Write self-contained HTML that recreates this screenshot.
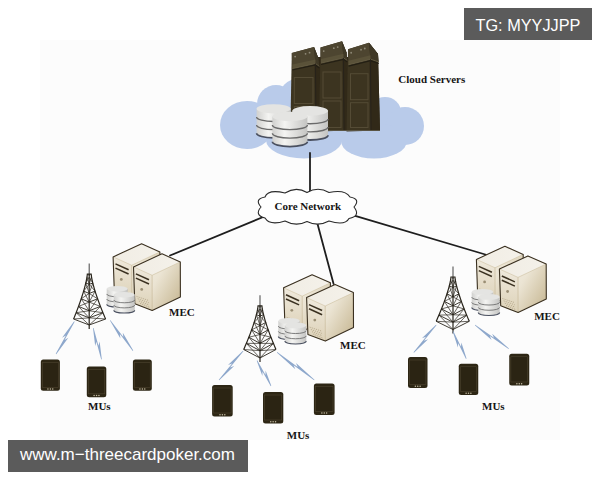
<!DOCTYPE html>
<html><head><meta charset="utf-8"><style>
html,body{margin:0;padding:0;background:#fff;width:600px;height:480px;overflow:hidden}
svg{display:block;position:absolute;left:0;top:0}
.lbl{font-family:"Liberation Serif",serif;font-weight:bold;font-size:11px;fill:#151515}
.wm{position:absolute;background:#5b5b5b;color:#fff;font-family:"Liberation Sans",sans-serif;white-space:nowrap}
</style></head><body>
<svg width="600" height="480" viewBox="0 0 600 480">
<defs>
<linearGradient id="gdb" x1="0" y1="0" x2="1" y2="0">
<stop offset="0" stop-color="#d0d0ce"/><stop offset="0.35" stop-color="#f4f4f2"/><stop offset="1" stop-color="#c4c4c2"/>
</linearGradient>
<linearGradient id="gside" x1="0" y1="0" x2="1" y2="0.7">
<stop offset="0" stop-color="#f7f4ec"/><stop offset="0.55" stop-color="#ebe4d3"/><stop offset="1" stop-color="#cdbf9e"/>
</linearGradient>
<linearGradient id="gfront" x1="0" y1="0" x2="0" y2="1">
<stop offset="0" stop-color="#efe9dc"/><stop offset="1" stop-color="#ddd2b8"/>
</linearGradient>
<linearGradient id="gtop" x1="0" y1="0" x2="1" y2="0">
<stop offset="0" stop-color="#f1ede4"/><stop offset="1" stop-color="#f4f1ea"/>
</linearGradient>
<linearGradient id="grack" x1="0" y1="0" x2="1" y2="0">
<stop offset="0" stop-color="#332e20"/><stop offset="0.5" stop-color="#3e3828"/><stop offset="1" stop-color="#2e2a1c"/>
</linearGradient>
</defs>
<rect x="40" y="40" width="520" height="400" fill="#fcfcfc"/>

<g fill="#b9cbea">
<ellipse cx="247" cy="125" rx="27" ry="24"/>
<ellipse cx="276" cy="104" rx="19" ry="19"/>
<ellipse cx="300" cy="100" rx="22" ry="22"/>
<ellipse cx="385" cy="112" rx="16" ry="15"/>
<ellipse cx="405" cy="126" rx="19" ry="19"/>
<ellipse cx="304" cy="140" rx="38" ry="18.5"/>
<ellipse cx="374" cy="141" rx="33" ry="17.5"/>
<ellipse cx="320" cy="120" rx="60" ry="22"/>
</g>
<rect x="300" y="57" width="72" height="73" fill="#312918"/>
<polygon points="291.8,53 314,47 318.5,58.5 320.5,130.5 290.3,131.5" fill="#3c3420"/>
<polygon points="314,47 318.5,58.5 320.5,130.5 316,130.5" fill="#312918"/>
<polygon points="291.8,53 314,47 315.5,63.5 292.3,68.5" fill="#4d4530"/>
<polygon points="314,47 318.5,58.5 319.3,66.5 315.5,63.5" fill="#3f3826"/>
<polygon points="292.3,64.5 315.5,59.5 315.5,63.5 292.3,68.5" fill="#5a5239"/>
<polyline points="292.3,68.5 315.5,63.5 319.3,66.5" fill="none" stroke="#625a42" stroke-width="1"/>
<polyline points="292.3,70 315.5,65 319.3,68" fill="none" stroke="#231f14" stroke-width="1.2"/>
<circle cx="295.13" cy="56.6" r="0.9" fill="#8f8a78"/>
<circle cx="305.56" cy="53.78" r="0.9" fill="#8f8a78"/>
<circle cx="309.56" cy="52.7" r="0.9" fill="#8f8a78"/>
<rect x="294.3" y="77.5" width="18.7" height="26" fill="none" stroke="#544b35" stroke-width="1"/>
<rect x="294.3" y="106.5" width="18.7" height="21" fill="none" stroke="#544b35" stroke-width="1"/>
<line x1="315.5" y1="63.5" x2="316" y2="130.5" stroke="#27221a" stroke-width="1"/>
<polygon points="320.5,47.5 342,41.3 346.5,52.5 348.5,130.5 319,131.5" fill="#3c3420"/>
<polygon points="342,41.3 346.5,52.5 348.5,130.5 344,130.5" fill="#312918"/>
<polygon points="320.5,47.5 342,41.3 343.5,57.8 321,63" fill="#4d4530"/>
<polygon points="342,41.3 346.5,52.5 347.3,60.5 343.5,57.8" fill="#3f3826"/>
<polygon points="321,59 343.5,53.8 343.5,57.8 321,63" fill="#5a5239"/>
<polyline points="321,63 343.5,57.8 347.3,60.5" fill="none" stroke="#625a42" stroke-width="1"/>
<polyline points="321,64.5 343.5,59.3 347.3,62" fill="none" stroke="#231f14" stroke-width="1.2"/>
<circle cx="323.73" cy="51.07" r="0.9" fill="#8f8a78"/>
<circle cx="333.83" cy="48.16" r="0.9" fill="#8f8a78"/>
<circle cx="337.7" cy="47.04" r="0.9" fill="#8f8a78"/>
<rect x="323" y="72" width="18" height="26" fill="none" stroke="#544b35" stroke-width="1"/>
<rect x="323" y="101" width="18" height="26.5" fill="none" stroke="#544b35" stroke-width="1"/>
<line x1="343.5" y1="57.8" x2="344" y2="130.5" stroke="#27221a" stroke-width="1"/>
<polygon points="348,49.2 369,42.7 378,54 380,130.5 346.5,131.5" fill="#3c3420"/>
<polygon points="369,42.7 378,54 380,130.5 371,130.5" fill="#312918"/>
<polygon points="348,49.2 369,42.7 370.5,59.2 348.5,64.7" fill="#4d4530"/>
<polygon points="369,42.7 378,54 378.8,62 370.5,59.2" fill="#3f3826"/>
<polygon points="348.5,60.7 370.5,55.2 370.5,59.2 348.5,64.7" fill="#5a5239"/>
<polyline points="348.5,64.7 370.5,59.2 378.8,62" fill="none" stroke="#625a42" stroke-width="1"/>
<polyline points="348.5,66.2 370.5,60.7 378.8,63.5" fill="none" stroke="#231f14" stroke-width="1.2"/>
<circle cx="351.15" cy="52.73" r="0.9" fill="#8f8a78"/>
<circle cx="361.02" cy="49.67" r="0.9" fill="#8f8a78"/>
<circle cx="364.8" cy="48.5" r="0.9" fill="#8f8a78"/>
<rect x="350.5" y="73.7" width="17.5" height="26" fill="none" stroke="#544b35" stroke-width="1"/>
<rect x="350.5" y="102.7" width="17.5" height="24.8" fill="none" stroke="#544b35" stroke-width="1"/>
<line x1="370.5" y1="59.2" x2="371" y2="130.5" stroke="#27221a" stroke-width="1"/>
<line x1="291" y1="130.5" x2="380" y2="130.5" stroke="#5a5545" stroke-width="1"/>
<path d="M256.6,108.79 L256.6,133.21 A17,4.59 0 0 0 290.6,133.21 L290.6,108.79 Z" fill="url(#gdb)"/>
<path d="M256.6,116.93 A17,4.59 0 0 0 290.6,116.93" fill="none" stroke="#6a6a6a" stroke-width="1.36"/>
<path d="M256.6,125.07 A17,4.59 0 0 0 290.6,125.07" fill="none" stroke="#6a6a6a" stroke-width="1.36"/>
<path d="M256.6,133.21 A17,4.59 0 0 0 290.6,133.21" fill="none" stroke="#4a5060" stroke-width="1.7"/>
<ellipse cx="273.6" cy="108.79" rx="17" ry="4.59" fill="#e4e4e2"/>
<path d="M292.3,110.82 L292.3,135.18 A17.85,4.82 0 0 0 328,135.18 L328,110.82 Z" fill="url(#gdb)"/>
<path d="M292.3,118.94 A17.85,4.82 0 0 0 328,118.94" fill="none" stroke="#6a6a6a" stroke-width="1.43"/>
<path d="M292.3,127.06 A17.85,4.82 0 0 0 328,127.06" fill="none" stroke="#6a6a6a" stroke-width="1.43"/>
<path d="M292.3,135.18 A17.85,4.82 0 0 0 328,135.18" fill="none" stroke="#4a5060" stroke-width="1.79"/>
<ellipse cx="310.15" cy="110.82" rx="17.85" ry="4.82" fill="#e4e4e2"/>
<path d="M272.4,116.52 L272.4,141.78 A17.5,4.73 0 0 0 307.4,141.78 L307.4,116.52 Z" fill="url(#gdb)"/>
<path d="M272.4,124.94 A17.5,4.73 0 0 0 307.4,124.94" fill="none" stroke="#6a6a6a" stroke-width="1.4"/>
<path d="M272.4,133.36 A17.5,4.73 0 0 0 307.4,133.36" fill="none" stroke="#6a6a6a" stroke-width="1.4"/>
<path d="M272.4,141.78 A17.5,4.73 0 0 0 307.4,141.78" fill="none" stroke="#4a5060" stroke-width="1.75"/>
<ellipse cx="289.9" cy="116.52" rx="17.5" ry="4.73" fill="#e4e4e2"/>
<g stroke="#1e1e1e" stroke-width="1.8" fill="none" stroke-linecap="round">
<line x1="310" y1="153" x2="310" y2="192"/>
<line x1="268" y1="215" x2="170" y2="255.5"/>
<line x1="317" y1="222" x2="333.6" y2="284"/>
<line x1="351" y1="214.7" x2="487" y2="255"/>
</g>
<path d="M265,197 Q268,189 285,193 Q296,186 307,192.5 Q318,186 329,192.5 Q345,189 350,197 Q361,199 354,207 Q361,216 349,218.5 Q345,226 329,221 Q318,227 307,221.5 Q296,227 285,221 Q270,226 265,218 Q254,215 261,207 Q254,199 265,197 Z" fill="#fff" stroke="#2a2a2a" stroke-width="1.1"/>
<text x="274.5" y="210" class="lbl">Core Network</text>
<text x="398.3" y="83" class="lbl">Cloud Servers</text>
<polygon points="113.1,256.9 141.6,243.8 159.9,251.9 160,286.9 131.8,300.4 114.4,293.7" fill="url(#gside)"/>
<polygon points="113.1,256.9 131.7,265.3 131.8,300.4 114.4,293.7" fill="url(#gfront)"/>
<polygon points="113.1,256.9 141.6,243.8 159.9,251.9 131.7,265.3" fill="url(#gtop)"/>
<polyline points="113.1,256.9 131.7,265.3 159.9,251.9" fill="none" stroke="#cdbf9f" stroke-width="0.6"/>
<line x1="131.7" y1="265.3" x2="131.8" y2="300.4" stroke="#c2b392" stroke-width="0.6"/>
<polygon points="113.1,256.9 141.6,243.8 159.9,251.9 160,286.9 131.8,300.4 114.4,293.7" fill="none" stroke="#3a3020" stroke-width="1.1" stroke-linejoin="round"/>
<line x1="115.5" y1="263.9" x2="128.6" y2="269.8" stroke="#3a3020" stroke-width="1.5"/>
<line x1="115.5" y1="268.1" x2="128.6" y2="274" stroke="#3a3020" stroke-width="1.5"/>
<circle cx="121.3" cy="279.4" r="1.4" fill="#9a8e74"/>
<line x1="116.1" y1="286.4" x2="128.1" y2="290.4" stroke="#a09070" stroke-width="0.6" stroke-dasharray="1.2,1"/>
<line x1="117.3" y1="288.7" x2="128.4" y2="292.7" stroke="#a09070" stroke-width="0.6" stroke-dasharray="1.2,1"/>
<line x1="118.5" y1="291" x2="128.7" y2="295" stroke="#a09070" stroke-width="0.6" stroke-dasharray="1.2,1"/>
<line x1="119.7" y1="293.3" x2="129" y2="297.3" stroke="#a09070" stroke-width="0.6" stroke-dasharray="1.2,1"/>
<polygon points="133.5,266.9 162,253.8 180.3,261.9 180.4,296.9 152.2,310.4 134.8,303.7" fill="url(#gside)"/>
<polygon points="133.5,266.9 152.1,275.3 152.2,310.4 134.8,303.7" fill="url(#gfront)"/>
<polygon points="133.5,266.9 162,253.8 180.3,261.9 152.1,275.3" fill="url(#gtop)"/>
<polyline points="133.5,266.9 152.1,275.3 180.3,261.9" fill="none" stroke="#cdbf9f" stroke-width="0.6"/>
<line x1="152.1" y1="275.3" x2="152.2" y2="310.4" stroke="#c2b392" stroke-width="0.6"/>
<polygon points="133.5,266.9 162,253.8 180.3,261.9 180.4,296.9 152.2,310.4 134.8,303.7" fill="none" stroke="#3a3020" stroke-width="1.1" stroke-linejoin="round"/>
<line x1="135.9" y1="273.9" x2="149" y2="279.8" stroke="#3a3020" stroke-width="1.5"/>
<line x1="135.9" y1="278.1" x2="149" y2="284" stroke="#3a3020" stroke-width="1.5"/>
<circle cx="141.7" cy="289.4" r="1.4" fill="#9a8e74"/>
<line x1="136.5" y1="296.4" x2="148.5" y2="300.4" stroke="#a09070" stroke-width="0.6" stroke-dasharray="1.2,1"/>
<line x1="137.7" y1="298.7" x2="148.8" y2="302.7" stroke="#a09070" stroke-width="0.6" stroke-dasharray="1.2,1"/>
<line x1="138.9" y1="301" x2="149.1" y2="305" stroke="#a09070" stroke-width="0.6" stroke-dasharray="1.2,1"/>
<line x1="140.1" y1="303.3" x2="149.4" y2="307.3" stroke="#a09070" stroke-width="0.6" stroke-dasharray="1.2,1"/>
<path d="M106.7,288.83 L106.7,304.17 A10.5,2.83 0 0 0 127.7,304.17 L127.7,288.83 Z" fill="url(#gdb)"/>
<path d="M106.7,293.94 A10.5,2.83 0 0 0 127.7,293.94" fill="none" stroke="#6a6a6a" stroke-width="0.84"/>
<path d="M106.7,299.06 A10.5,2.83 0 0 0 127.7,299.06" fill="none" stroke="#6a6a6a" stroke-width="0.84"/>
<path d="M106.7,304.17 A10.5,2.83 0 0 0 127.7,304.17" fill="none" stroke="#4a5060" stroke-width="1.05"/>
<ellipse cx="117.2" cy="288.83" rx="10.5" ry="2.83" fill="#e4e4e2"/>
<path d="M113.75,294.83 L113.75,310.17 A10.5,2.83 0 0 0 134.75,310.17 L134.75,294.83 Z" fill="url(#gdb)"/>
<path d="M113.75,299.94 A10.5,2.83 0 0 0 134.75,299.94" fill="none" stroke="#6a6a6a" stroke-width="0.84"/>
<path d="M113.75,305.06 A10.5,2.83 0 0 0 134.75,305.06" fill="none" stroke="#6a6a6a" stroke-width="0.84"/>
<path d="M113.75,310.17 A10.5,2.83 0 0 0 134.75,310.17" fill="none" stroke="#4a5060" stroke-width="1.05"/>
<ellipse cx="124.25" cy="294.83" rx="10.5" ry="2.83" fill="#e4e4e2"/>
<line x1="89.2" y1="263.6" x2="89.2" y2="276.1" stroke="#555" stroke-width="1.1"/>
<polyline points="89.2,274.1 87.33,274.1 87.14,275.97 86.85,277.84 86.5,279.71 86.11,281.58 85.68,283.45 85.22,285.33 84.73,287.2 84.21,289.07 83.68,290.94 83.12,292.81 82.54,294.68 81.94,296.55 81.33,298.42 80.7,300.29 80.05,302.16 79.39,304.03 78.71,305.9 78.02,307.77 77.31,309.65 76.6,311.52 75.86,313.39 75.12,315.26 74.37,317.13 73.6,319" fill="none" stroke="#28241b" stroke-width="1.2"/>
<polyline points="89.2,274.1 91.17,274.1 91.37,275.97 91.67,277.84 92.04,279.71 92.45,281.58 92.9,283.45 93.39,285.33 93.9,287.2 94.44,289.07 95.01,290.94 95.59,292.81 96.2,294.68 96.83,296.55 97.48,298.42 98.14,300.29 98.82,302.16 99.52,304.03 100.23,305.9 100.96,307.77 101.7,309.65 102.45,311.52 103.22,313.39 104,315.26 104.79,317.13 105.6,319" fill="none" stroke="#28241b" stroke-width="1.2"/>
<line x1="89.2" y1="274.1" x2="89.2" y2="329" stroke="#28241b" stroke-width="1.2"/>
<polyline points="85.76,283.08 89.2,284.28 92.81,283.08" fill="none" stroke="#28241b" stroke-width="0.9"/>
<line x1="87.02" y1="276.79" x2="89.2" y2="284.28" stroke="#28241b" stroke-width="0.7"/>
<line x1="89.2" y1="277.15" x2="85.76" y2="283.08" stroke="#28241b" stroke-width="0.7"/>
<line x1="91.49" y1="276.79" x2="89.2" y2="284.28" stroke="#28241b" stroke-width="0.7"/>
<line x1="89.2" y1="277.15" x2="92.81" y2="283.08" stroke="#28241b" stroke-width="0.7"/>
<polyline points="83.61,291.16 89.2,293.44 95.08,291.16" fill="none" stroke="#28241b" stroke-width="0.9"/>
<line x1="85.76" y1="283.08" x2="89.2" y2="293.44" stroke="#28241b" stroke-width="0.7"/>
<line x1="89.2" y1="284.28" x2="83.61" y2="291.16" stroke="#28241b" stroke-width="0.7"/>
<line x1="92.81" y1="283.08" x2="89.2" y2="293.44" stroke="#28241b" stroke-width="0.7"/>
<line x1="89.2" y1="284.28" x2="95.08" y2="291.16" stroke="#28241b" stroke-width="0.7"/>
<polyline points="81.2,298.8 89.2,302.1 97.61,298.8" fill="none" stroke="#28241b" stroke-width="0.9"/>
<line x1="83.61" y1="291.16" x2="89.2" y2="302.1" stroke="#28241b" stroke-width="0.7"/>
<line x1="89.2" y1="293.44" x2="81.2" y2="298.8" stroke="#28241b" stroke-width="0.7"/>
<line x1="95.08" y1="291.16" x2="89.2" y2="302.1" stroke="#28241b" stroke-width="0.7"/>
<line x1="89.2" y1="293.44" x2="97.61" y2="298.8" stroke="#28241b" stroke-width="0.7"/>
<polyline points="78.52,306.43 89.2,310.75 100.43,306.43" fill="none" stroke="#28241b" stroke-width="0.9"/>
<line x1="81.2" y1="298.8" x2="89.2" y2="310.75" stroke="#28241b" stroke-width="0.7"/>
<line x1="89.2" y1="302.1" x2="78.52" y2="306.43" stroke="#28241b" stroke-width="0.7"/>
<line x1="97.61" y1="298.8" x2="89.2" y2="310.75" stroke="#28241b" stroke-width="0.7"/>
<line x1="89.2" y1="302.1" x2="100.43" y2="306.43" stroke="#28241b" stroke-width="0.7"/>
<polyline points="76.13,312.71 89.2,317.87 102.94,312.71" fill="none" stroke="#28241b" stroke-width="0.9"/>
<line x1="78.52" y1="306.43" x2="89.2" y2="317.87" stroke="#28241b" stroke-width="0.7"/>
<line x1="89.2" y1="310.75" x2="76.13" y2="312.71" stroke="#28241b" stroke-width="0.7"/>
<line x1="100.43" y1="306.43" x2="89.2" y2="317.87" stroke="#28241b" stroke-width="0.7"/>
<line x1="89.2" y1="310.75" x2="102.94" y2="312.71" stroke="#28241b" stroke-width="0.7"/>
<polyline points="73.6,319 89.2,325 105.6,319" fill="none" stroke="#28241b" stroke-width="0.9"/>
<line x1="76.13" y1="312.71" x2="89.2" y2="325" stroke="#28241b" stroke-width="0.7"/>
<line x1="89.2" y1="317.87" x2="73.6" y2="319" stroke="#28241b" stroke-width="0.7"/>
<line x1="102.94" y1="312.71" x2="89.2" y2="325" stroke="#28241b" stroke-width="0.7"/>
<line x1="89.2" y1="317.87" x2="105.6" y2="319" stroke="#28241b" stroke-width="0.7"/>
<polygon points="74.66,321.65 64.55,339.91 68.34,337.69 56.26,354.15 55.74,353.85 65.85,335.59 62.06,337.81 74.14,321.35" fill="#8ea8cc"/>
<polygon points="93.59,327.92 98.44,345.7 99.61,341.47 101.79,359.32 101.21,359.48 96.36,341.7 95.19,345.93 93.01,328.08" fill="#8ea8cc"/>
<polygon points="110.44,320.22 123.32,337.03 122.8,332.67 133.24,350.57 132.76,350.93 119.88,334.12 120.4,338.48 109.96,320.58" fill="#8ea8cc"/>
<rect x="40.8" y="359.4" width="19.1" height="31.4" rx="2.5" fill="#2d2614"/>
<rect x="42.4" y="362.4" width="15.9" height="24.9" fill="#2b2413" stroke="#4d4430" stroke-width="0.6"/>
<circle cx="47.95" cy="389" r="0.75" fill="#c4bca4"/>
<circle cx="50.35" cy="389" r="0.75" fill="#c4bca4"/>
<circle cx="52.75" cy="389" r="0.75" fill="#c4bca4"/>
<rect x="86.8" y="366.4" width="19.5" height="30.9" rx="2.5" fill="#2d2614"/>
<rect x="88.4" y="369.4" width="16.3" height="24.4" fill="#2b2413" stroke="#4d4430" stroke-width="0.6"/>
<circle cx="94.15" cy="395.5" r="0.75" fill="#c4bca4"/>
<circle cx="96.55" cy="395.5" r="0.75" fill="#c4bca4"/>
<circle cx="98.95" cy="395.5" r="0.75" fill="#c4bca4"/>
<rect x="132.9" y="359.4" width="18.9" height="31.4" rx="2.5" fill="#2d2614"/>
<rect x="134.5" y="362.4" width="15.7" height="24.9" fill="#2b2413" stroke="#4d4430" stroke-width="0.6"/>
<circle cx="139.95" cy="389" r="0.75" fill="#c4bca4"/>
<circle cx="142.35" cy="389" r="0.75" fill="#c4bca4"/>
<circle cx="144.75" cy="389" r="0.75" fill="#c4bca4"/>
<text x="169" y="316" class="lbl">MEC</text>
<text x="88" y="410.3" class="lbl">MUs</text>
<polygon points="283.6,287.8 312.1,274.7 330.4,282.8 330.5,317.8 302.3,331.3 284.9,324.6" fill="url(#gside)"/>
<polygon points="283.6,287.8 302.2,296.2 302.3,331.3 284.9,324.6" fill="url(#gfront)"/>
<polygon points="283.6,287.8 312.1,274.7 330.4,282.8 302.2,296.2" fill="url(#gtop)"/>
<polyline points="283.6,287.8 302.2,296.2 330.4,282.8" fill="none" stroke="#cdbf9f" stroke-width="0.6"/>
<line x1="302.2" y1="296.2" x2="302.3" y2="331.3" stroke="#c2b392" stroke-width="0.6"/>
<polygon points="283.6,287.8 312.1,274.7 330.4,282.8 330.5,317.8 302.3,331.3 284.9,324.6" fill="none" stroke="#3a3020" stroke-width="1.1" stroke-linejoin="round"/>
<line x1="286" y1="294.8" x2="299.1" y2="300.7" stroke="#3a3020" stroke-width="1.5"/>
<line x1="286" y1="299" x2="299.1" y2="304.9" stroke="#3a3020" stroke-width="1.5"/>
<circle cx="291.8" cy="310.3" r="1.4" fill="#9a8e74"/>
<line x1="286.6" y1="317.3" x2="298.6" y2="321.3" stroke="#a09070" stroke-width="0.6" stroke-dasharray="1.2,1"/>
<line x1="287.8" y1="319.6" x2="298.9" y2="323.6" stroke="#a09070" stroke-width="0.6" stroke-dasharray="1.2,1"/>
<line x1="289" y1="321.9" x2="299.2" y2="325.9" stroke="#a09070" stroke-width="0.6" stroke-dasharray="1.2,1"/>
<line x1="290.2" y1="324.2" x2="299.5" y2="328.2" stroke="#a09070" stroke-width="0.6" stroke-dasharray="1.2,1"/>
<polygon points="306.6,297.6 335.1,284.5 353.4,292.6 353.5,327.6 325.3,341.1 307.9,334.4" fill="url(#gside)"/>
<polygon points="306.6,297.6 325.2,306 325.3,341.1 307.9,334.4" fill="url(#gfront)"/>
<polygon points="306.6,297.6 335.1,284.5 353.4,292.6 325.2,306" fill="url(#gtop)"/>
<polyline points="306.6,297.6 325.2,306 353.4,292.6" fill="none" stroke="#cdbf9f" stroke-width="0.6"/>
<line x1="325.2" y1="306" x2="325.3" y2="341.1" stroke="#c2b392" stroke-width="0.6"/>
<polygon points="306.6,297.6 335.1,284.5 353.4,292.6 353.5,327.6 325.3,341.1 307.9,334.4" fill="none" stroke="#3a3020" stroke-width="1.1" stroke-linejoin="round"/>
<line x1="309" y1="304.6" x2="322.1" y2="310.5" stroke="#3a3020" stroke-width="1.5"/>
<line x1="309" y1="308.8" x2="322.1" y2="314.7" stroke="#3a3020" stroke-width="1.5"/>
<circle cx="314.8" cy="320.1" r="1.4" fill="#9a8e74"/>
<line x1="309.6" y1="327.1" x2="321.6" y2="331.1" stroke="#a09070" stroke-width="0.6" stroke-dasharray="1.2,1"/>
<line x1="310.8" y1="329.4" x2="321.9" y2="333.4" stroke="#a09070" stroke-width="0.6" stroke-dasharray="1.2,1"/>
<line x1="312" y1="331.7" x2="322.2" y2="335.7" stroke="#a09070" stroke-width="0.6" stroke-dasharray="1.2,1"/>
<line x1="313.2" y1="334" x2="322.5" y2="338" stroke="#a09070" stroke-width="0.6" stroke-dasharray="1.2,1"/>
<path d="M278.3,320.9 L278.3,336.6 A10.75,2.9 0 0 0 299.8,336.6 L299.8,320.9 Z" fill="url(#gdb)"/>
<path d="M278.3,326.13 A10.75,2.9 0 0 0 299.8,326.13" fill="none" stroke="#6a6a6a" stroke-width="0.86"/>
<path d="M278.3,331.37 A10.75,2.9 0 0 0 299.8,331.37" fill="none" stroke="#6a6a6a" stroke-width="0.86"/>
<path d="M278.3,336.6 A10.75,2.9 0 0 0 299.8,336.6" fill="none" stroke="#4a5060" stroke-width="1.07"/>
<ellipse cx="289.05" cy="320.9" rx="10.75" ry="2.9" fill="#e4e4e2"/>
<path d="M284.8,325.4 L284.8,341.1 A10.75,2.9 0 0 0 306.3,341.1 L306.3,325.4 Z" fill="url(#gdb)"/>
<path d="M284.8,330.63 A10.75,2.9 0 0 0 306.3,330.63" fill="none" stroke="#6a6a6a" stroke-width="0.86"/>
<path d="M284.8,335.87 A10.75,2.9 0 0 0 306.3,335.87" fill="none" stroke="#6a6a6a" stroke-width="0.86"/>
<path d="M284.8,341.1 A10.75,2.9 0 0 0 306.3,341.1" fill="none" stroke="#4a5060" stroke-width="1.07"/>
<ellipse cx="295.55" cy="325.4" rx="10.75" ry="2.9" fill="#e4e4e2"/>
<line x1="260" y1="295.3" x2="260" y2="307.8" stroke="#555" stroke-width="1.1"/>
<polyline points="260,305.8 258.04,305.8 257.85,307.62 257.54,309.44 257.18,311.26 256.77,313.08 256.32,314.9 255.84,316.73 255.33,318.55 254.79,320.37 254.23,322.19 253.64,324.01 253.04,325.83 252.42,327.65 251.77,329.47 251.12,331.29 250.44,333.11 249.75,334.93 249.04,336.75 248.32,338.57 247.58,340.4 246.83,342.22 246.07,344.04 245.29,345.86 244.5,347.68 243.7,349.5" fill="none" stroke="#28241b" stroke-width="1.2"/>
<polyline points="260,305.8 261.92,305.8 262.11,307.62 262.41,309.44 262.77,311.26 263.17,313.08 263.61,314.9 264.09,316.73 264.59,318.55 265.12,320.37 265.67,322.19 266.24,324.01 266.83,325.83 267.44,327.65 268.07,329.47 268.72,331.29 269.39,333.11 270.06,334.93 270.76,336.75 271.47,338.57 272.19,340.4 272.93,342.22 273.68,344.04 274.44,345.86 275.21,347.68 276,349.5" fill="none" stroke="#28241b" stroke-width="1.2"/>
<line x1="260" y1="305.8" x2="260" y2="362" stroke="#28241b" stroke-width="1.2"/>
<polyline points="256.41,314.54 260,316.24 263.52,314.54" fill="none" stroke="#28241b" stroke-width="0.9"/>
<line x1="257.72" y1="308.42" x2="260" y2="316.24" stroke="#28241b" stroke-width="0.7"/>
<line x1="260" y1="308.93" x2="256.41" y2="314.54" stroke="#28241b" stroke-width="0.7"/>
<line x1="262.24" y1="308.42" x2="260" y2="316.24" stroke="#28241b" stroke-width="0.7"/>
<line x1="260" y1="308.93" x2="263.52" y2="314.54" stroke="#28241b" stroke-width="0.7"/>
<polyline points="254.16,322.41 260,325.64 265.73,322.41" fill="none" stroke="#28241b" stroke-width="0.9"/>
<line x1="256.41" y1="314.54" x2="260" y2="325.64" stroke="#28241b" stroke-width="0.7"/>
<line x1="260" y1="316.24" x2="254.16" y2="322.41" stroke="#28241b" stroke-width="0.7"/>
<line x1="263.52" y1="314.54" x2="260" y2="325.64" stroke="#28241b" stroke-width="0.7"/>
<line x1="260" y1="316.24" x2="265.73" y2="322.41" stroke="#28241b" stroke-width="0.7"/>
<polyline points="251.64,329.84 260,334.51 268.2,329.84" fill="none" stroke="#28241b" stroke-width="0.9"/>
<line x1="254.16" y1="322.41" x2="260" y2="334.51" stroke="#28241b" stroke-width="0.7"/>
<line x1="260" y1="325.64" x2="251.64" y2="329.84" stroke="#28241b" stroke-width="0.7"/>
<line x1="265.73" y1="322.41" x2="260" y2="334.51" stroke="#28241b" stroke-width="0.7"/>
<line x1="260" y1="325.64" x2="268.2" y2="329.84" stroke="#28241b" stroke-width="0.7"/>
<polyline points="248.84,337.26 260,343.38 270.96,337.26" fill="none" stroke="#28241b" stroke-width="0.9"/>
<line x1="251.64" y1="329.84" x2="260" y2="343.38" stroke="#28241b" stroke-width="0.7"/>
<line x1="260" y1="334.51" x2="248.84" y2="337.26" stroke="#28241b" stroke-width="0.7"/>
<line x1="268.2" y1="329.84" x2="260" y2="343.38" stroke="#28241b" stroke-width="0.7"/>
<line x1="260" y1="334.51" x2="270.96" y2="337.26" stroke="#28241b" stroke-width="0.7"/>
<polyline points="246.34,343.38 260,350.69 273.41,343.38" fill="none" stroke="#28241b" stroke-width="0.9"/>
<line x1="248.84" y1="337.26" x2="260" y2="350.69" stroke="#28241b" stroke-width="0.7"/>
<line x1="260" y1="343.38" x2="246.34" y2="343.38" stroke="#28241b" stroke-width="0.7"/>
<line x1="270.96" y1="337.26" x2="260" y2="350.69" stroke="#28241b" stroke-width="0.7"/>
<line x1="260" y1="343.38" x2="273.41" y2="343.38" stroke="#28241b" stroke-width="0.7"/>
<polyline points="243.7,349.5 260,358 276,349.5" fill="none" stroke="#28241b" stroke-width="0.9"/>
<line x1="246.34" y1="343.38" x2="260" y2="358" stroke="#28241b" stroke-width="0.7"/>
<line x1="260" y1="350.69" x2="243.7" y2="349.5" stroke="#28241b" stroke-width="0.7"/>
<line x1="273.41" y1="343.38" x2="260" y2="358" stroke="#28241b" stroke-width="0.7"/>
<line x1="260" y1="350.69" x2="276" y2="349.5" stroke="#28241b" stroke-width="0.7"/>
<polygon points="243.43,351.19 230.07,367.51 234.2,366 219.23,380.19 218.77,379.81 232.13,363.49 228,365 242.97,350.81" fill="#8ea8cc"/>
<polygon points="257.26,360.36 265.5,374.94 265.6,370.55 271.26,385.86 270.74,386.14 262.5,371.56 262.4,375.95 256.74,360.64" fill="#8ea8cc"/>
<polygon points="277.18,352.06 297.72,367.01 295.97,362.98 314.48,379.66 314.12,380.14 293.58,365.19 295.33,369.22 276.82,352.54" fill="#8ea8cc"/>
<rect x="212.1" y="385" width="20.6" height="31.5" rx="2.5" fill="#2d2614"/>
<rect x="213.7" y="388" width="17.4" height="25" fill="#2b2413" stroke="#4d4430" stroke-width="0.6"/>
<circle cx="220" cy="414.7" r="0.75" fill="#c4bca4"/>
<circle cx="222.4" cy="414.7" r="0.75" fill="#c4bca4"/>
<circle cx="224.8" cy="414.7" r="0.75" fill="#c4bca4"/>
<rect x="263" y="392" width="20.3" height="31.5" rx="2.5" fill="#2d2614"/>
<rect x="264.6" y="395" width="17.1" height="25" fill="#2b2413" stroke="#4d4430" stroke-width="0.6"/>
<circle cx="270.75" cy="421.7" r="0.75" fill="#c4bca4"/>
<circle cx="273.15" cy="421.7" r="0.75" fill="#c4bca4"/>
<circle cx="275.55" cy="421.7" r="0.75" fill="#c4bca4"/>
<rect x="313.9" y="383.4" width="20.7" height="31.5" rx="2.5" fill="#2d2614"/>
<rect x="315.5" y="386.4" width="17.5" height="25" fill="#2b2413" stroke="#4d4430" stroke-width="0.6"/>
<circle cx="321.85" cy="413.1" r="0.75" fill="#c4bca4"/>
<circle cx="324.25" cy="413.1" r="0.75" fill="#c4bca4"/>
<circle cx="326.65" cy="413.1" r="0.75" fill="#c4bca4"/>
<text x="340" y="348.5" class="lbl">MEC</text>
<text x="286.8" y="438.7" class="lbl">MUs</text>
<polygon points="476.4,259.4 504.9,246.3 523.2,254.4 523.3,289.4 495.1,302.9 477.7,296.2" fill="url(#gside)"/>
<polygon points="476.4,259.4 495,267.8 495.1,302.9 477.7,296.2" fill="url(#gfront)"/>
<polygon points="476.4,259.4 504.9,246.3 523.2,254.4 495,267.8" fill="url(#gtop)"/>
<polyline points="476.4,259.4 495,267.8 523.2,254.4" fill="none" stroke="#cdbf9f" stroke-width="0.6"/>
<line x1="495" y1="267.8" x2="495.1" y2="302.9" stroke="#c2b392" stroke-width="0.6"/>
<polygon points="476.4,259.4 504.9,246.3 523.2,254.4 523.3,289.4 495.1,302.9 477.7,296.2" fill="none" stroke="#3a3020" stroke-width="1.1" stroke-linejoin="round"/>
<line x1="478.8" y1="266.4" x2="491.9" y2="272.3" stroke="#3a3020" stroke-width="1.5"/>
<line x1="478.8" y1="270.6" x2="491.9" y2="276.5" stroke="#3a3020" stroke-width="1.5"/>
<circle cx="484.6" cy="281.9" r="1.4" fill="#9a8e74"/>
<line x1="479.4" y1="288.9" x2="491.4" y2="292.9" stroke="#a09070" stroke-width="0.6" stroke-dasharray="1.2,1"/>
<line x1="480.6" y1="291.2" x2="491.7" y2="295.2" stroke="#a09070" stroke-width="0.6" stroke-dasharray="1.2,1"/>
<line x1="481.8" y1="293.5" x2="492" y2="297.5" stroke="#a09070" stroke-width="0.6" stroke-dasharray="1.2,1"/>
<line x1="483" y1="295.8" x2="492.3" y2="299.8" stroke="#a09070" stroke-width="0.6" stroke-dasharray="1.2,1"/>
<polygon points="499.4,269 527.9,255.9 546.2,264 546.3,299 518.1,312.5 500.7,305.8" fill="url(#gside)"/>
<polygon points="499.4,269 518,277.4 518.1,312.5 500.7,305.8" fill="url(#gfront)"/>
<polygon points="499.4,269 527.9,255.9 546.2,264 518,277.4" fill="url(#gtop)"/>
<polyline points="499.4,269 518,277.4 546.2,264" fill="none" stroke="#cdbf9f" stroke-width="0.6"/>
<line x1="518" y1="277.4" x2="518.1" y2="312.5" stroke="#c2b392" stroke-width="0.6"/>
<polygon points="499.4,269 527.9,255.9 546.2,264 546.3,299 518.1,312.5 500.7,305.8" fill="none" stroke="#3a3020" stroke-width="1.1" stroke-linejoin="round"/>
<line x1="501.8" y1="276" x2="514.9" y2="281.9" stroke="#3a3020" stroke-width="1.5"/>
<line x1="501.8" y1="280.2" x2="514.9" y2="286.1" stroke="#3a3020" stroke-width="1.5"/>
<circle cx="507.6" cy="291.5" r="1.4" fill="#9a8e74"/>
<line x1="502.4" y1="298.5" x2="514.4" y2="302.5" stroke="#a09070" stroke-width="0.6" stroke-dasharray="1.2,1"/>
<line x1="503.6" y1="300.8" x2="514.7" y2="304.8" stroke="#a09070" stroke-width="0.6" stroke-dasharray="1.2,1"/>
<line x1="504.8" y1="303.1" x2="515" y2="307.1" stroke="#a09070" stroke-width="0.6" stroke-dasharray="1.2,1"/>
<line x1="506" y1="305.4" x2="515.3" y2="309.4" stroke="#a09070" stroke-width="0.6" stroke-dasharray="1.2,1"/>
<path d="M471.7,291.9 L471.7,307.6 A10.75,2.9 0 0 0 493.2,307.6 L493.2,291.9 Z" fill="url(#gdb)"/>
<path d="M471.7,297.13 A10.75,2.9 0 0 0 493.2,297.13" fill="none" stroke="#6a6a6a" stroke-width="0.86"/>
<path d="M471.7,302.37 A10.75,2.9 0 0 0 493.2,302.37" fill="none" stroke="#6a6a6a" stroke-width="0.86"/>
<path d="M471.7,307.6 A10.75,2.9 0 0 0 493.2,307.6" fill="none" stroke="#4a5060" stroke-width="1.07"/>
<ellipse cx="482.45" cy="291.9" rx="10.75" ry="2.9" fill="#e4e4e2"/>
<path d="M478.2,296.9 L478.2,312.6 A10.75,2.9 0 0 0 499.7,312.6 L499.7,296.9 Z" fill="url(#gdb)"/>
<path d="M478.2,302.13 A10.75,2.9 0 0 0 499.7,302.13" fill="none" stroke="#6a6a6a" stroke-width="0.86"/>
<path d="M478.2,307.37 A10.75,2.9 0 0 0 499.7,307.37" fill="none" stroke="#6a6a6a" stroke-width="0.86"/>
<path d="M478.2,312.6 A10.75,2.9 0 0 0 499.7,312.6" fill="none" stroke="#4a5060" stroke-width="1.07"/>
<ellipse cx="488.95" cy="296.9" rx="10.75" ry="2.9" fill="#e4e4e2"/>
<line x1="453" y1="266.5" x2="453" y2="279" stroke="#555" stroke-width="1.1"/>
<polyline points="453,277 450.98,277 450.78,278.85 450.47,280.69 450.09,282.54 449.67,284.38 449.21,286.23 448.71,288.07 448.18,289.92 447.63,291.77 447.05,293.61 446.45,295.46 445.83,297.3 445.18,299.15 444.52,301 443.84,302.84 443.15,304.69 442.43,306.53 441.7,308.38 440.96,310.23 440.2,312.07 439.43,313.92 438.64,315.76 437.84,317.61 437.03,319.45 436.2,321.3" fill="none" stroke="#28241b" stroke-width="1.2"/>
<polyline points="453,277 454.96,277 455.15,278.85 455.46,280.69 455.82,282.54 456.23,284.38 456.68,286.23 457.16,288.07 457.67,289.92 458.21,291.77 458.77,293.61 459.36,295.46 459.96,297.3 460.58,299.15 461.23,301 461.88,302.84 462.56,304.69 463.25,306.53 463.96,308.38 464.68,310.23 465.42,312.07 466.17,313.92 466.93,315.76 467.71,317.61 468.5,319.45 469.3,321.3" fill="none" stroke="#28241b" stroke-width="1.2"/>
<line x1="453" y1="277" x2="453" y2="333.5" stroke="#28241b" stroke-width="1.2"/>
<polyline points="449.3,285.86 453,287.5 456.59,285.86" fill="none" stroke="#28241b" stroke-width="0.9"/>
<line x1="450.65" y1="279.66" x2="453" y2="287.5" stroke="#28241b" stroke-width="0.7"/>
<line x1="453" y1="280.15" x2="449.3" y2="285.86" stroke="#28241b" stroke-width="0.7"/>
<line x1="455.28" y1="279.66" x2="453" y2="287.5" stroke="#28241b" stroke-width="0.7"/>
<line x1="453" y1="280.15" x2="456.59" y2="285.86" stroke="#28241b" stroke-width="0.7"/>
<polyline points="446.98,293.83 453,296.95 458.84,293.83" fill="none" stroke="#28241b" stroke-width="0.9"/>
<line x1="449.3" y1="285.86" x2="453" y2="296.95" stroke="#28241b" stroke-width="0.7"/>
<line x1="453" y1="287.5" x2="446.98" y2="293.83" stroke="#28241b" stroke-width="0.7"/>
<line x1="456.59" y1="285.86" x2="453" y2="296.95" stroke="#28241b" stroke-width="0.7"/>
<line x1="453" y1="287.5" x2="458.84" y2="293.83" stroke="#28241b" stroke-width="0.7"/>
<polyline points="444.39,301.37 453,305.88 461.36,301.37" fill="none" stroke="#28241b" stroke-width="0.9"/>
<line x1="446.98" y1="293.83" x2="453" y2="305.88" stroke="#28241b" stroke-width="0.7"/>
<line x1="453" y1="296.95" x2="444.39" y2="301.37" stroke="#28241b" stroke-width="0.7"/>
<line x1="458.84" y1="293.83" x2="453" y2="305.88" stroke="#28241b" stroke-width="0.7"/>
<line x1="453" y1="296.95" x2="461.36" y2="301.37" stroke="#28241b" stroke-width="0.7"/>
<polyline points="441.5,308.9 453,314.8 464.16,308.9" fill="none" stroke="#28241b" stroke-width="0.9"/>
<line x1="444.39" y1="301.37" x2="453" y2="314.8" stroke="#28241b" stroke-width="0.7"/>
<line x1="453" y1="305.88" x2="441.5" y2="308.9" stroke="#28241b" stroke-width="0.7"/>
<line x1="461.36" y1="301.37" x2="453" y2="314.8" stroke="#28241b" stroke-width="0.7"/>
<line x1="453" y1="305.88" x2="464.16" y2="308.9" stroke="#28241b" stroke-width="0.7"/>
<polyline points="438.92,315.1 453,322.15 466.66,315.1" fill="none" stroke="#28241b" stroke-width="0.9"/>
<line x1="441.5" y1="308.9" x2="453" y2="322.15" stroke="#28241b" stroke-width="0.7"/>
<line x1="453" y1="314.8" x2="438.92" y2="315.1" stroke="#28241b" stroke-width="0.7"/>
<line x1="464.16" y1="308.9" x2="453" y2="322.15" stroke="#28241b" stroke-width="0.7"/>
<line x1="453" y1="314.8" x2="466.66" y2="315.1" stroke="#28241b" stroke-width="0.7"/>
<polyline points="436.2,321.3 453,329.5 469.3,321.3" fill="none" stroke="#28241b" stroke-width="0.9"/>
<line x1="438.92" y1="315.1" x2="453" y2="329.5" stroke="#28241b" stroke-width="0.7"/>
<line x1="453" y1="322.15" x2="436.2" y2="321.3" stroke="#28241b" stroke-width="0.7"/>
<line x1="466.66" y1="315.1" x2="453" y2="329.5" stroke="#28241b" stroke-width="0.7"/>
<line x1="453" y1="322.15" x2="469.3" y2="321.3" stroke="#28241b" stroke-width="0.7"/>
<polygon points="436.48,325.19 423.99,340.77 428.1,339.22 413.98,352.69 413.52,352.31 426.01,336.73 421.9,338.28 436.02,324.81" fill="#8ea8cc"/>
<polygon points="453.27,331.12 461.03,346.76 461.36,342.39 466.52,358.62 465.98,358.88 458.22,343.24 457.89,347.61 452.73,331.38" fill="#8ea8cc"/>
<polygon points="475.17,324.75 493.96,337.73 492.12,333.75 508.92,348.5 508.58,349 489.79,336.02 491.63,340 474.83,325.25" fill="#8ea8cc"/>
<rect x="408" y="357" width="19.5" height="31" rx="2.5" fill="#2d2614"/>
<rect x="409.6" y="360" width="16.3" height="24.5" fill="#2b2413" stroke="#4d4430" stroke-width="0.6"/>
<circle cx="415.35" cy="386.2" r="0.75" fill="#c4bca4"/>
<circle cx="417.75" cy="386.2" r="0.75" fill="#c4bca4"/>
<circle cx="420.15" cy="386.2" r="0.75" fill="#c4bca4"/>
<rect x="458.75" y="363.75" width="19.5" height="31.25" rx="2.5" fill="#2d2614"/>
<rect x="460.35" y="366.75" width="16.3" height="24.75" fill="#2b2413" stroke="#4d4430" stroke-width="0.6"/>
<circle cx="466.1" cy="393.2" r="0.75" fill="#c4bca4"/>
<circle cx="468.5" cy="393.2" r="0.75" fill="#c4bca4"/>
<circle cx="470.9" cy="393.2" r="0.75" fill="#c4bca4"/>
<rect x="509.25" y="353.75" width="20" height="31.75" rx="2.5" fill="#2d2614"/>
<rect x="510.85" y="356.75" width="16.8" height="25.25" fill="#2b2413" stroke="#4d4430" stroke-width="0.6"/>
<circle cx="516.85" cy="383.7" r="0.75" fill="#c4bca4"/>
<circle cx="519.25" cy="383.7" r="0.75" fill="#c4bca4"/>
<circle cx="521.65" cy="383.7" r="0.75" fill="#c4bca4"/>
<text x="534.2" y="319.5" class="lbl">MEC</text>
<text x="482" y="409.5" class="lbl">MUs</text>
</svg>
<div class="wm" style="left:464px;top:8px;width:128px;height:32px;font-size:16.3px;line-height:35px;text-indent:11.5px">TG: MYYJJPP</div>
<div class="wm" style="left:8px;top:440px;width:240px;height:32px;font-size:17px;line-height:30px;text-indent:12px">www.m&#8722;threecardpoker.com</div>
</body></html>
